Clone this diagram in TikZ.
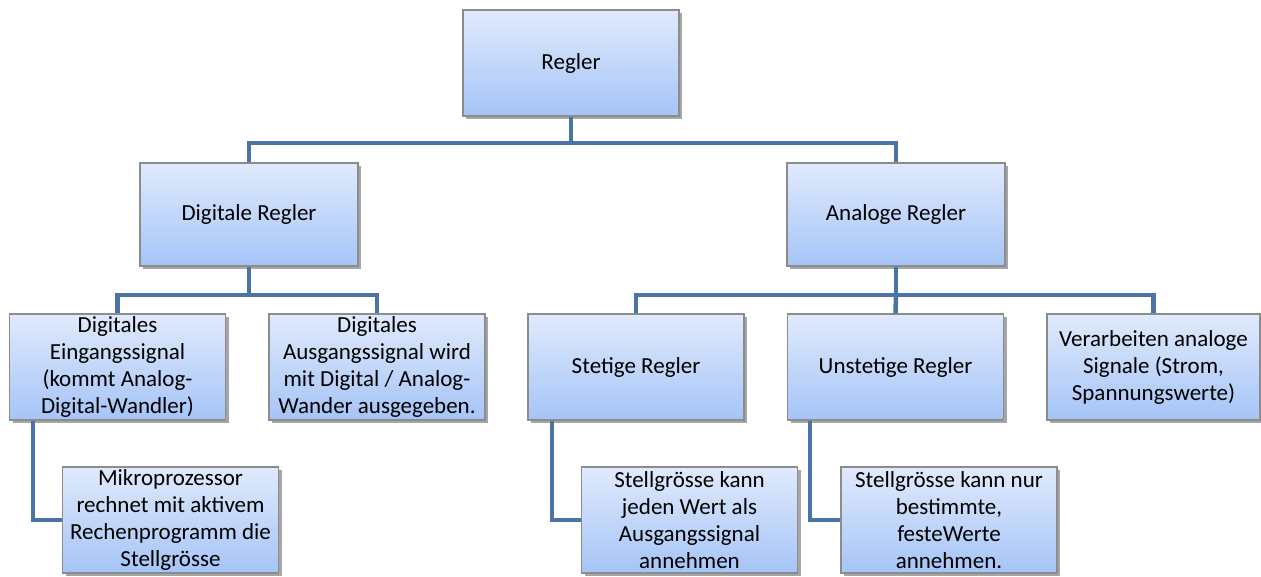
\documentclass[tikz,border=0pt]{standalone}
\usepackage{fontspec}
\setmainfont{Carlito}
\usetikzlibrary{shadows}
\definecolor{connc}{RGB}{74,116,166}
\definecolor{boxtop}{RGB}{224,234,252}
\definecolor{boxbot}{RGB}{165,196,247}
\definecolor{boxline}{RGB}{140,140,140}
\tikzset{
  box/.style={draw=boxline, line width=1.3pt, top color=boxtop, bottom color=boxbot,
    minimum width=216pt, minimum height=106pt, align=center, inner sep=2pt,
    font=\fontsize{23}{27}\selectfont,
    drop shadow={shadow xshift=3pt, shadow yshift=-3pt, opacity=0.35, fill=black}},
  conn/.style={draw=connc, line width=4.5pt}
}
\begin{document}
\begin{tikzpicture}[x=1pt,y=-1pt]
\useasboundingbox (0,0) rectangle (1261,577);
% nodes
\node[box] (reg) at (571,63) {Regler};
\node[box, minimum width=218pt, minimum height=103pt] (dig) at (249,214.5) {Digitale Regler};
\node[box, minimum width=218pt, minimum height=103pt] (ana) at (896,214.5) {Analoge Regler};
\node[box] (eing) at (117.5,367) {Digitales\\Eingangssignal\\(kommt Analog-\\Digital-Wandler)};
\node[box] (ausg) at (377,367) {Digitales\\Ausgangssignal wird\\mit Digital / Analog-\\Wander ausgegeben.};
\node[box] (stet) at (636,367) {Stetige Regler};
\node[box] (unst) at (895.5,367) {Unstetige Regler};
\node[box, minimum width=213pt] (verb) at (1153.5,367) {Verarbeiten analoge\\Signale (Strom,\\Spannungswerte)};
\node[box] (mik) at (170.5,520) {Mikroprozessor\\rechnet mit aktivem\\Rechenprogramm die\\Stellgrösse};
\node[box] (sjw) at (689.5,520) {Stellgrösse kann\\jeden Wert als\\Ausgangssignal\\annehmen};
\node[box] (snb) at (949,520) {Stellgrösse kann nur\\bestimmte,\\festeWerte\\annehmen.};
% bus coordinates
\coordinate (b1) at (571,143);
\coordinate (b2) at (249,295);
\coordinate (b3) at (896,295);
% connectors
\draw[conn] (reg.south) -- (b1);
\draw[conn] (dig.north) |- (b1) -| (ana.north);
\draw[conn] (dig.south) -- (b2);
\draw[conn] (eing.north) |- (b2) -| (ausg.north);
\draw[conn] (ana.south) -- (b3);
\draw[conn] (stet.north) |- (b3) -| (verb.north);
\draw[conn] (unst.north) -- (b3);
\draw[conn] ([xshift=-84.5pt]eing.south) |- (mik.west);
\draw[conn] ([xshift=-84pt]stet.south) |- (sjw.west);
\draw[conn] ([xshift=-85.5pt]unst.south) |- (snb.west);
\end{tikzpicture}
\end{document}
